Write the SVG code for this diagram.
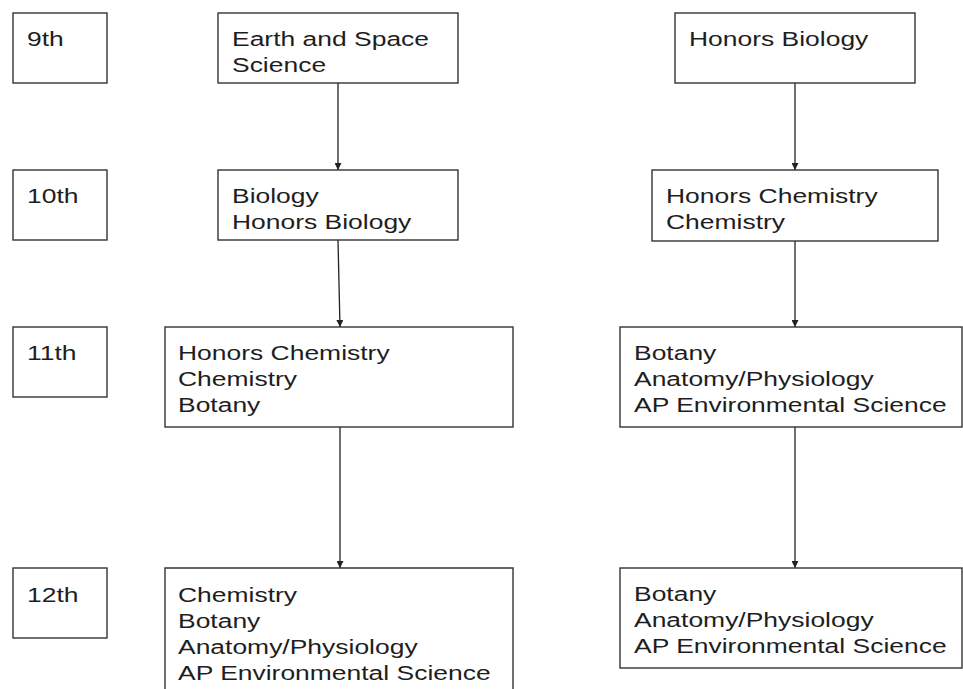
<svg xmlns="http://www.w3.org/2000/svg" width="963" height="689" viewBox="0 0 963 689">
<style>
.box{fill:#fff;stroke:#333;stroke-width:1.4}
.t{font-family:"Liberation Sans",Arial,sans-serif;font-size:21px;fill:#1e1e1e}
.c{stroke:#222;stroke-width:1.3;fill:none;marker-end:url(#ah)}
</style>
<defs>
<marker id="ah" viewBox="0 0 10 10" refX="10" refY="5" markerWidth="7" markerHeight="7" markerUnits="userSpaceOnUse" orient="auto">
<path d="M0,0 L10,5 L0,10 z" fill="#222"/>
</marker>
</defs>
<rect width="963" height="689" fill="#fff"/>
<g id="connectors">
<line class="c" x1="338" y1="83" x2="338" y2="170"/>
<line class="c" x1="338" y1="240" x2="340" y2="327"/>
<line class="c" x1="340" y1="427" x2="340" y2="568"/>
<line class="c" x1="795" y1="83" x2="795" y2="170"/>
<line class="c" x1="795" y1="241" x2="795" y2="327"/>
<line class="c" x1="795" y1="427" x2="795" y2="568"/>
</g>
<g id="g9">
<rect class="box" x="13" y="13" width="94" height="70"/>
<text class="t" transform="translate(27,46) scale(1.26,1)">9th</text>
</g>
<g id="g10">
<rect class="box" x="13" y="170" width="94" height="70"/>
<text class="t" transform="translate(27,203) scale(1.26,1)">10th</text>
</g>
<g id="g11">
<rect class="box" x="13" y="327" width="94" height="70"/>
<text class="t" transform="translate(27,360) scale(1.26,1)">11th</text>
</g>
<g id="g12">
<rect class="box" x="13" y="568" width="94" height="70"/>
<text class="t" transform="translate(27,602) scale(1.26,1)">12th</text>
</g>
<g id="earth">
<rect class="box" x="218" y="13" width="240" height="70"/>
<text class="t" transform="translate(232,46) scale(1.26,1)"><tspan x="0" y="0">Earth and Space</tspan><tspan x="0" y="26">Science</tspan></text>
</g>
<g id="bio10">
<rect class="box" x="218" y="170" width="240" height="70"/>
<text class="t" transform="translate(232,203) scale(1.26,1)"><tspan x="0" y="0">Biology</tspan><tspan x="0" y="26">Honors Biology</tspan></text>
</g>
<g id="left11">
<rect class="box" x="165" y="327" width="348" height="100"/>
<text class="t" transform="translate(178,360) scale(1.26,1)"><tspan x="0" y="0">Honors Chemistry</tspan><tspan x="0" y="26">Chemistry</tspan><tspan x="0" y="52">Botany</tspan></text>
</g>
<g id="left12">
<path class="box" d="M165,700 V568 H513 V700"/>
<text class="t" transform="translate(178,602) scale(1.26,1)"><tspan x="0" y="0">Chemistry</tspan><tspan x="0" y="26">Botany</tspan><tspan x="0" y="52">Anatomy/Physiology</tspan><tspan x="0" y="78">AP Environmental Science</tspan></text>
</g>
<g id="hbio9">
<rect class="box" x="675" y="13" width="240" height="70"/>
<text class="t" transform="translate(689,46) scale(1.26,1)">Honors Biology</text>
</g>
<g id="hchem10">
<rect class="box" x="652" y="170" width="286" height="71"/>
<text class="t" transform="translate(666,203) scale(1.26,1)"><tspan x="0" y="0">Honors Chemistry</tspan><tspan x="0" y="26">Chemistry</tspan></text>
</g>
<g id="right11">
<rect class="box" x="620" y="327" width="342" height="100"/>
<text class="t" transform="translate(634,360) scale(1.26,1)"><tspan x="0" y="0">Botany</tspan><tspan x="0" y="26">Anatomy/Physiology</tspan><tspan x="0" y="52">AP Environmental Science</tspan></text>
</g>
<g id="right12">
<rect class="box" x="620" y="568" width="342" height="100"/>
<text class="t" transform="translate(634,601) scale(1.26,1)"><tspan x="0" y="0">Botany</tspan><tspan x="0" y="26">Anatomy/Physiology</tspan><tspan x="0" y="52">AP Environmental Science</tspan></text>
</g>
</svg>
